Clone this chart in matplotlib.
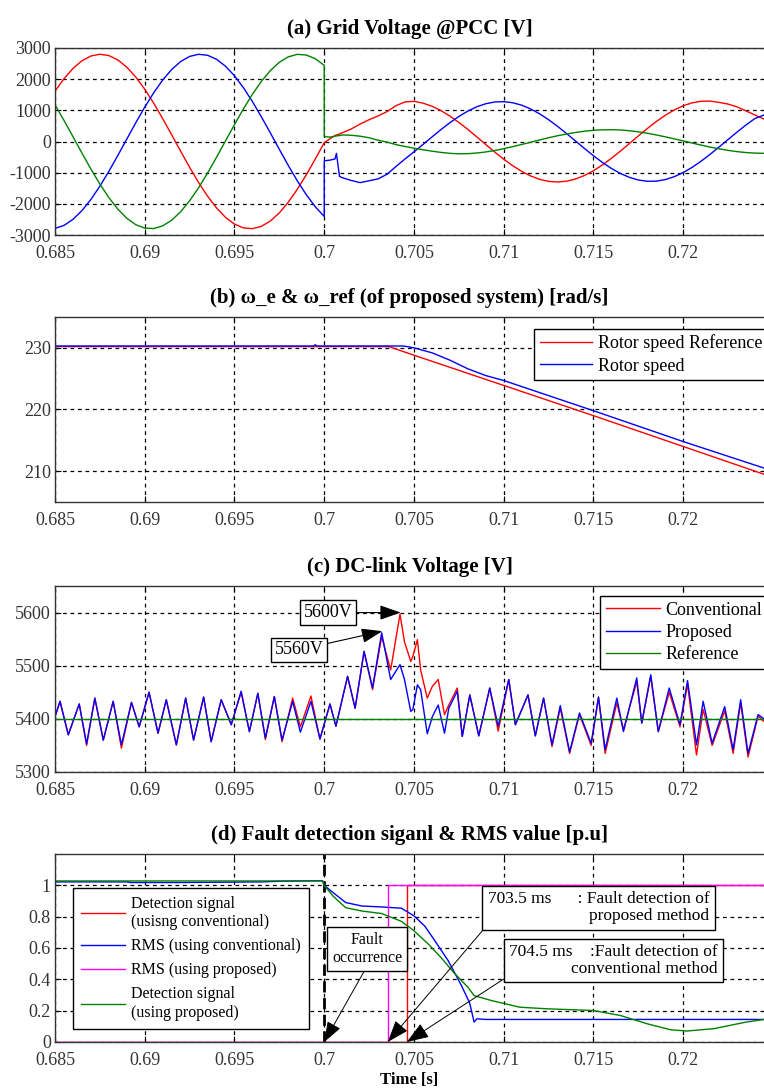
import numpy as np
import matplotlib
matplotlib.use('Agg')
import matplotlib.pyplot as plt

plt.rcParams['font.family'] = ['Liberation Serif', 'DejaVu Serif']

# ---------------- data ----------------
xticks = [0.685, 0.69, 0.695, 0.70, 0.705, 0.71, 0.715, 0.72]
xtick_labels = ['0.685', '0.69', '0.695', '0.7', '0.705', '0.71', '0.715', '0.72']
fault_time = 0.70

# (a) grid voltage, pre-fault samples every 0.5 ms from 0.685 to 0.700
t_a_pre = np.round(np.arange(0.685, 0.70001, 0.0005), 4)
va_red_pre = [1614, 2014, 2343, 2589, 2743, 2800, 2757, 2617, 2385, 2068, 1677, 1227, 734, 215,
              -312, -828, -1315, -1754, -2132, -2435, -2650, -2773, -2797, -2722, -2550, -2289,
              -1945, -1533, -1067, -563, -39]
va_blue_pre = [-2789, -2692, -2499, -2218, -1859, -1434, -958, -448, 78, 601, 1103, 1566, 1973,
               2310, 2566, 2730, 2798, 2767, 2638, 2415, 2107, 1724, 1280, 790, 273, -254, -772,
               -1263, -1708, -2094, -2405]
va_green_pre = [1175, 677, 156, -370, -884, -1366, -1800, -2170, -2463, -2669, -2780, -2793,
                -2707, -2525, -2254, -1902, -1484, -1013, -505, 20, 544, 1049, 1517, 1931, 2277,
                2542, 2717, 2796, 2775, 2657, 2444]
# post-fault samples
t_a_post = [0.7000, 0.7003, 0.7006, 0.70068, 0.70085, 0.7010, 0.7015, 0.7020, 0.7025, 0.7030,
            0.7035, 0.7040] + list(np.round(np.arange(0.7045, 0.72451, 0.0005), 4))
va_red_post = [-39, 80, 190, 210, 240, 280, 400, 560, 700, 820, 960, 1150,
               1270, 1288, 1231, 1132, 992, 816, 612, 387, 147, -97, -339, -568, -777, -958,
               -1106, -1214, -1280, -1300, -1274, -1203, -1089, -937, -751, -539, -308, -66,
               179, 417, 640, 841, 1012, 1147, 1241, 1292, 1296, 1255, 1200, 1110, 980, 850, 720]
va_blue_post = [-620, -600, -560, -380, -1120, -1160, -1250, -1320, -1260, -1200, -1050, -800,
                -560, -333, -96, 145, 381, 603, 804, 976, 1114, 1212, 1268, 1278, 1244, 1165,
                1045, 887, 699, 486, 255, 16, -225, -457, -673, -865, -1026, -1151, -1236,
                -1276, -1272, -1222, -1129, -996, -828, -630, -410, -176, 65, 303, 531, 740, 850]
va_green_post = [160, 140, 170, 180, 190, 210, 200, 170, 120, 40, -20, -100,
                 -160, -215, -265, -310, -350, -380, -395, -390, -370, -335, -290, -230, -165,
                 -95, -25, 50, 120, 185, 240, 290, 330, 360, 375, 378, 370, 345, 310, 265, 210,
                 150, 85, 20, -50, -115, -180, -235, -285, -325, -355, -372, -380]

# (b) rotor speed
t_b_ref = [0.685, 0.7036, 0.705, 0.71, 0.715, 0.72, 0.7245]
wb_ref = [230.2, 230.2, 228.8, 223.9, 219.0, 214.0, 209.5]
t_b_rot = [0.685, 0.6994, 0.6995, 0.6996, 0.7044, 0.705, 0.706, 0.707, 0.708, 0.709, 0.710,
           0.715, 0.72, 0.7245]
wb_rot = [230.3, 230.3, 230.5, 230.3, 230.3, 230.0, 229.2, 228.0, 226.6, 225.5, 224.7,
          219.8, 214.8, 210.5]

# (c) DC-link voltage
t_c = [0.68500, 0.68528, 0.68574, 0.68635, 0.68676, 0.68722, 0.68769, 0.68824, 0.68870, 0.68926,
       0.68969, 0.69024, 0.69074, 0.69120, 0.69176, 0.69228, 0.69272, 0.69328, 0.69370, 0.69426,
       0.69482, 0.69537, 0.69583, 0.69630, 0.69672, 0.69722, 0.69765, 0.69824, 0.69867, 0.69926,
       0.69976, 0.70032, 0.70065, 0.70130, 0.70172, 0.70222, 0.70269, 0.70320, 0.70370, 0.70422,
       0.70447, 0.70482, 0.70494, 0.70519, 0.70537, 0.70574, 0.70602, 0.70635, 0.70670, 0.70694,
       0.70741, 0.70769, 0.70811, 0.70861, 0.70922, 0.70969, 0.71028, 0.71065, 0.71135, 0.71176,
       0.71222, 0.71269, 0.71315, 0.71367, 0.71422, 0.71487, 0.71528, 0.71565, 0.71630, 0.71667,
       0.71741, 0.71769, 0.71819, 0.71861, 0.71922, 0.71982, 0.72024, 0.72074, 0.72111, 0.72161,
       0.72231, 0.72278, 0.72320, 0.72361, 0.72417, 0.72450]
vc_prop = [5404, 5433, 5370, 5428, 5353, 5439, 5360, 5433, 5351, 5431,
           5385, 5450, 5373, 5436, 5351, 5439, 5360, 5441, 5357, 5436,
           5389, 5452, 5376, 5448, 5364, 5442, 5360, 5433, 5375, 5433,
           5362, 5428, 5386, 5480, 5420, 5527, 5458, 5562, 5474, 5502,
           5474, 5414, 5418, 5464, 5455, 5372, 5404, 5426, 5373, 5420,
           5452, 5367, 5445, 5368, 5458, 5386, 5474, 5389, 5445, 5368,
           5439, 5351, 5425, 5338, 5411, 5354, 5441, 5342, 5439, 5376,
           5477, 5392, 5483, 5376, 5458, 5389, 5472, 5351, 5433, 5354,
           5423, 5342, 5436, 5335, 5408, 5400]
vc_conv = [5404, 5433, 5370, 5428, 5350, 5439, 5360, 5433, 5345, 5431,
           5385, 5450, 5373, 5436, 5351, 5439, 5360, 5441, 5357, 5436,
           5389, 5450, 5376, 5448, 5361, 5442, 5357, 5439, 5385, 5443,
           5362, 5428, 5386, 5480, 5420, 5527, 5455, 5555, 5492, 5597,
           5545, 5508, 5518, 5549, 5492, 5439, 5461, 5474, 5408, 5426,
           5458, 5367, 5445, 5368, 5458, 5377, 5474, 5389, 5445, 5368,
           5439, 5348, 5420, 5335, 5408, 5350, 5441, 5335, 5430, 5380,
           5470, 5392, 5480, 5376, 5450, 5385, 5465, 5332, 5418, 5350,
           5415, 5335, 5430, 5328, 5405, 5395]
vc_ref = 5400

# (d) fault detection
t_d_blue = [0.685, 0.689, 0.6892, 0.692, 0.6965, 0.6975, 0.6999, 0.7, 0.7005, 0.7012, 0.7021,
            0.7032, 0.7043, 0.7050, 0.7056, 0.7061, 0.7069, 0.7076, 0.7081, 0.70835, 0.7085,
            0.709, 0.7245]
vd_blue = [1.022, 1.022, 1.018, 1.018, 1.022, 1.026, 1.03, 1.0, 0.953, 0.89, 0.868,
           0.862, 0.854, 0.805, 0.74, 0.657, 0.52, 0.37, 0.25, 0.127, 0.148,
           0.144, 0.144]
t_d_green = [0.685, 0.6999, 0.7, 0.7005, 0.7012, 0.7021, 0.7032, 0.7043, 0.7050, 0.7058, 0.7065,
             0.7072, 0.7080, 0.70835, 0.7093, 0.7109, 0.7124, 0.7150, 0.7165, 0.7180, 0.7193,
             0.7202, 0.7217, 0.7235, 0.7245]
vd_green = [1.028, 1.028, 1.0, 0.93, 0.857, 0.836, 0.82, 0.77, 0.71, 0.625, 0.54,
            0.445, 0.35, 0.296, 0.265, 0.222, 0.212, 0.201, 0.169, 0.116, 0.078,
            0.07, 0.085, 0.127, 0.144]
t_d_red = [0.685, 0.7046, 0.7046, 0.7245]
vd_red = [0, 0, 1, 1]
t_d_mag = [0.685, 0.70354, 0.70354, 0.7245]
vd_mag = [0, 0, 1, 1]

# ---------------- figure ----------------
W, H = 764, 1088
fig = plt.figure(figsize=(W / 100, H / 100), dpi=100)
LEFT = 55


def add_ax(top_px, bot_px):
    return fig.add_axes([LEFT / W, 1 - bot_px / H, 1 - LEFT / W, (bot_px - top_px) / H])


def style(ax, ylim, yticks, ylabels, title):
    ax.set_xlim(0.685, 0.7245)
    ax.set_xticks(xticks)
    ax.set_xticklabels(xtick_labels)
    ax.set_ylim(*ylim)
    ax.set_yticks(yticks)
    ax.set_yticklabels(ylabels)
    ax.grid(True, color='black', linestyle=(0, (3, 3)), linewidth=0.9)
    ax.set_axisbelow(True)
    ax.tick_params(direction='in', top=True, right=False, length=4, labelsize=13,
                   labelcolor='#333333')
    ax.tick_params(axis='x', pad=7)
    ax.tick_params(axis='y', pad=3)
    ax.spines['right'].set_visible(False)
    for s in ['top', 'bottom', 'left']:
        ax.spines[s].set_linewidth(1.0)
        ax.spines[s].set_color('#333333')
    ax.set_title(title, fontsize=15, fontweight='bold', pad=10)


RED, BLUE, GREEN, MAG = '#ff0000', '#0000ff', '#008000', '#ff00ff'

# (a)
ax_a = add_ax(48, 235)
ax_a.plot(list(t_a_pre) + list(t_a_post), va_red_pre + va_red_post, color=RED, lw=1)
ax_a.plot(list(t_a_pre) + list(t_a_post), va_blue_pre + va_blue_post, color=BLUE, lw=1)
ax_a.plot(list(t_a_pre) + list(t_a_post), va_green_pre + va_green_post, color=GREEN, lw=1)
style(ax_a, (-3000, 3000), [-3000, -2000, -1000, 0, 1000, 2000, 3000],
      ['-3000', '-2000', '-1000', '0', '1000', '2000', '3000'],
      '(a) Grid Voltage @PCC [V]')

# (b)
ax_b = add_ax(317, 502)
ax_b.plot(t_b_ref, wb_ref, color=RED, lw=1, label='Rotor speed Reference')
ax_b.plot(t_b_rot, wb_rot, color=BLUE, lw=1, label='Rotor speed')
style(ax_b, (205, 235), [210, 220, 230], ['210', '220', '230'],
      '(b) ω_e & ω_ref (of proposed system) [rad/s]')
lg = ax_b.legend(loc='upper right', bbox_to_anchor=(1.005, 0.935), fontsize=13,
                 handlelength=2.9, fancybox=False, framealpha=1, edgecolor='black',
                 borderaxespad=0, labelspacing=0.3, borderpad=0.3, handletextpad=0.3)
lg.get_frame().set_linewidth(1.0)

# (c)
ax_c = add_ax(586, 772)
ax_c.plot(t_c, vc_conv, color=RED, lw=1, label='Conventional')
ax_c.plot(t_c, vc_prop, color=BLUE, lw=1, label='Proposed')
ax_c.axhline(vc_ref, color=GREEN, lw=1, label='Reference')
style(ax_c, (5300, 5650), [5300, 5400, 5500, 5600], ['5300', '5400', '5500', '5600'],
      '(c) DC-link Voltage [V]')
lg = ax_c.legend(loc='upper right', bbox_to_anchor=(1.005, 0.945), fontsize=13,
                 handlelength=3.0, fancybox=False, framealpha=1, edgecolor='black',
                 borderaxespad=0, labelspacing=0.3, borderpad=0.3, handletextpad=0.3)
lg.get_frame().set_linewidth(1.0)
box = dict(boxstyle='square,pad=0.2', fc='white', ec='black', lw=1)
arr = dict(arrowstyle='-|>,head_length=1.0,head_width=0.35', color='black', lw=0.8,
           shrinkA=0, shrinkB=0)
ax_c.annotate('5600V', xy=(0.70426, 5600), xytext=(0.70022, 5600), ha='center', va='center',
              fontsize=13, bbox=box, arrowprops=arr)
ax_c.annotate('5560V', xy=(0.70324, 5565), xytext=(0.69861, 5530), ha='center', va='center',
              fontsize=13, bbox=box, arrowprops=arr)

# (d)
ax_d = add_ax(854, 1042)
ax_d.plot(t_d_red, vd_red, color=RED, lw=1, label='Detection signal\n(usisng conventional)')
ax_d.plot(t_d_blue, vd_blue, color=BLUE, lw=1, label='RMS (using conventional)')
ax_d.plot(t_d_mag, vd_mag, color=MAG, lw=1, label='RMS (using proposed)')
ax_d.plot(t_d_green, vd_green, color=GREEN, lw=1, label='Detection signal\n(using proposed)')
ax_d.axvline(fault_time, color='black', lw=2, linestyle=(0, (4, 2)), zorder=1.5)
style(ax_d, (0, 1.2), [0, 0.2, 0.4, 0.6, 0.8, 1.0], ['0', '0.2', '0.4', '0.6', '0.8', '1'],
      '(d) Fault detection siganl & RMS value [p.u]')
ax_d.set_xlabel('Time [s]', fontsize=12, fontweight='bold', labelpad=2)
lg = ax_d.legend(loc='upper left', bbox_to_anchor=(0.025, 0.82), fontsize=11.5,
                 handlelength=2.8, fancybox=False, framealpha=1, edgecolor='black',
                 borderaxespad=0, labelspacing=0.5, borderpad=0.5, handletextpad=0.35)
lg.get_frame().set_linewidth(1.0)

arr_d = dict(arrowstyle='-|>,head_length=1.1,head_width=0.4', color='black', lw=0.7,
             shrinkA=0, shrinkB=0)
ax_d.annotate('Fault\noccurrence', xy=(fault_time, 0), xytext=(0.70239, 0.595),
              ha='center', va='center', fontsize=11.5, bbox=dict(boxstyle='square,pad=0.3',
              fc='white', ec='black', lw=1), arrowprops=dict(arr_d, relpos=(0.5, 0)))
ax_d.annotate('703.5 ms      : Fault detection of\nproposed method', xy=(0.70354, 0),
              xytext=(0.71528, 0.856), ha='center', va='center', multialignment='right',
              fontsize=12.5, linespacing=1.1,
              bbox=dict(boxstyle='square,pad=0.3', fc='white', ec='black', lw=1),
              arrowprops=dict(arr_d, relpos=(0.0, 0.0)))
ax_d.annotate('704.5 ms    :Fault detection of\nconventional method', xy=(0.7046, 0),
              xytext=(0.71613, 0.521), ha='center', va='center', multialignment='right',
              fontsize=12.5, linespacing=1.1,
              bbox=dict(boxstyle='square,pad=0.3', fc='white', ec='black', lw=1),
              arrowprops=dict(arr_d, relpos=(0.0, 0.05)))

fig.savefig('out.png', dpi=100)
